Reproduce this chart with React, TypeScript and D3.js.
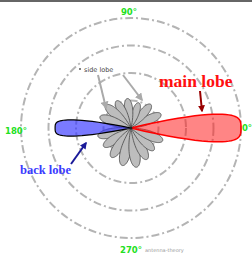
import React from 'react';
import * as d3 from 'd3';

// normalized gain rings
const ringLevels = [0.25, 0.5, 0.75, 1];

// main and back lobe: direction (deg, ccw from +x), length, half width (deg)
const mainLobe = { angle: 0, length: 1.0, halfWidth: 13.5 };
const backLobe = { angle: 180, length: 0.69, halfWidth: 11.5 };

// side lobes: direction in degrees and relative length
const sideAngles = [25, 50, 73, 97, 118, 138, 160, 194, 214, 236, 257, 278, 297, 316, 338];
const sideLengths = [0.3, 0.28, 0.24, 0.27, 0.28, 0.31, 0.3, 0.31, 0.3, 0.32, 0.35, 0.36, 0.32, 0.29, 0.31];

const angleLabels = ['0°', '90°', '180°', '270°'];

const W = 252;
const H = 257;
const cx = 131;
const cy = 128;

const r = d3.scaleLinear().domain([0, 1]).range([0, 110]);

const toRad = (deg: number) => (deg * Math.PI) / 180;

// lobe outline: petal of given length, higher power keeps it wide near tip
function lobePath(angle: number, length: number, halfWidth: number, power: number) {
  const pts: [number, number][] = [];
  const n = 60;
  for (let i = 0; i <= n; i++) {
    const t = -1 + (2 * i) / n;
    const a = toRad(angle + t * halfWidth);
    const rr = r(length) * (1 - Math.pow(Math.abs(t), power));
    pts.push([Math.PI / 2 - a, rr]);
  }
  return d3.lineRadial().angle((d) => d[0]).radius((d) => d[1]).curve(d3.curveLinearClosed)(pts) || '';
}

function App() {
  // label spots, in the order of angleLabels
  const labelPos = [
    { x: 247, y: 131 },
    { x: 129, y: 15 },
    { x: 16, y: 134 },
    { x: 131, y: 253 },
  ];
  return (
    <svg width={W} height={H} style={{ position: 'absolute', left: 0, top: 0 }}>
      <defs>
        <marker id="ag" viewBox="0 0 10 10" refX="8" refY="5" markerWidth="4" markerHeight="4" orient="auto">
          <path d="M0,0L10,5L0,10z" fill="#aaa" />
        </marker>
        <marker id="ar" viewBox="0 0 10 10" refX="8" refY="5" markerWidth="3.5" markerHeight="3.5" orient="auto">
          <path d="M0,0L10,5L0,10z" fill="#990000" />
        </marker>
        <marker id="ab" viewBox="0 0 10 10" refX="8" refY="5" markerWidth="3.5" markerHeight="3.5" orient="auto">
          <path d="M0,0L10,5L0,10z" fill="#1a1a99" />
        </marker>
      </defs>
      <rect width={W} height={H} fill="#fff" />
      <line x1={0} x2={W} y1={1} y2={1} stroke="#333" strokeWidth={1.5} />
      <g transform={`translate(${cx},${cy})`}>
        {ringLevels.map((v) => (
          <circle key={v} r={r(v)} fill="none" stroke="#b4b4b4" strokeWidth={2} strokeDasharray="8,3,2,3" />
        ))}
        {sideAngles.map((a, i) => (
          <path key={a} d={lobePath(a, sideLengths[i], 20, 2)} fill="#bdbdbd" stroke="#555" strokeWidth={0.9} />
        ))}
        <path d={lobePath(backLobe.angle, backLobe.length, backLobe.halfWidth, 4)} fill="#3333ff" fillOpacity={0.65} stroke="#000" strokeWidth={1.2} />
        <path d={lobePath(mainLobe.angle, mainLobe.length, mainLobe.halfWidth, 4)} fill="#ff2020" fillOpacity={0.55} stroke="#ff0000" strokeWidth={1.5} />
        <circle r={1.5} fill="#222" />
      </g>
      <g stroke="#aaa" strokeWidth={2} fill="none">
        <line x1={98} y1={75} x2={106} y2={108} markerEnd="url(#ag)" />
        <line x1={123} y1={75} x2={142} y2={100} markerEnd="url(#ag)" />
      </g>
      <circle cx={80} cy={69} r={1} fill="#555" />
      <text x={84} y={72} fontFamily="DejaVu Sans" fontSize={6.5} fill="#444">side lobe</text>
      <text x={159} y={87} fontFamily="Liberation Serif" fontWeight="bold" fontSize={17.5} fill="#ff1010">main lobe</text>
      <line x1={200} y1={91} x2={202} y2={111} stroke="#990000" strokeWidth={2} markerEnd="url(#ar)" />
      <text x={20} y={174} fontFamily="Liberation Serif" fontWeight="bold" fontSize={12.5} fill="#3a3aff">back lobe</text>
      <line x1={71} y1={164} x2={86} y2={143} stroke="#1a1a99" strokeWidth={2} markerEnd="url(#ab)" />
      {angleLabels.map((t, i) => (
        <text key={t} x={labelPos[i].x} y={labelPos[i].y} textAnchor="middle" fontFamily="DejaVu Sans" fontWeight="bold" fontSize={8.5} fill="#22e022">{t}</text>
      ))}
      <text x={145} y={252} fontFamily="DejaVu Sans" fontSize={5} fill="#999">antenna-theory</text>
    </svg>
  );
}

export default App;
